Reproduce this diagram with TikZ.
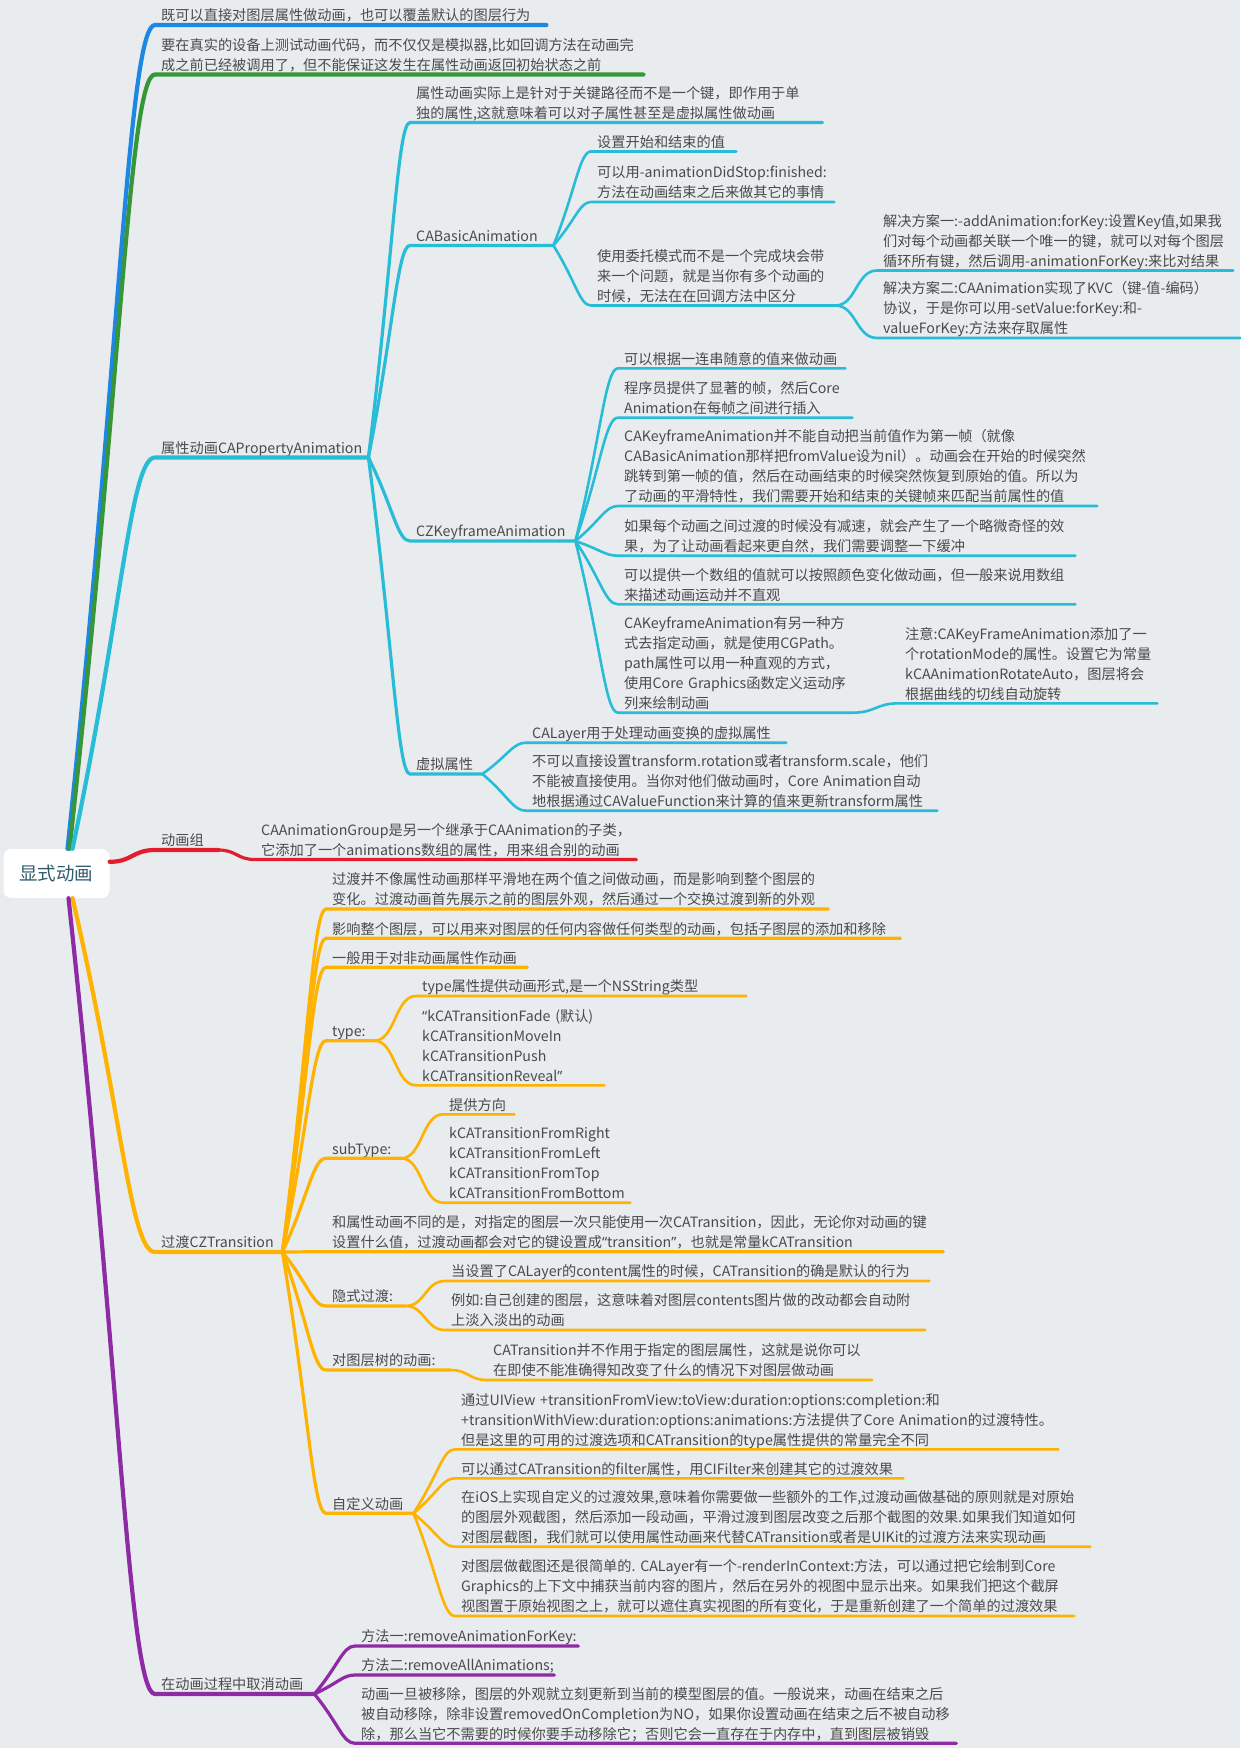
\documentclass[tikz,border=0pt]{standalone}
\usepackage{fontspec}
\setmainfont{Noto Sans CJK SC}
\newfontfamily\quotefont{Noto Sans}
\usetikzlibrary{calc}
\definecolor{cbg}{HTML}{E8ECEF}
\definecolor{ctext}{HTML}{4A4A4A}
\definecolor{croot}{HTML}{2F5B6C}
\definecolor{cblue}{HTML}{1E86E3}
\definecolor{cgreen}{HTML}{379637}
\definecolor{ccyan}{HTML}{29BCD6}
\definecolor{cred}{HTML}{E01E2E}
\definecolor{cyellow}{HTML}{FFB300}
\definecolor{cpurple}{HTML}{8E2AA3}
\hyphenpenalty=10000
\exhyphenpenalty=10000
\newcommand{\openq}{{\quotefont “}}
\newcommand{\closeq}{{\quotefont ”}}

\begin{document}
\begin{tikzpicture}[x=1pt,y=-1pt,
  topic/.style={anchor=south west,align=left,inner xsep=6pt,inner ysep=0pt,
    font=\fontsize{14.2}{20}\selectfont,text=ctext,
    execute at end node={\rule[-4pt]{0pt}{4pt}}},
  rootbox/.style={fill=white,rounded corners=8pt,minimum width=106pt,
    minimum height=49pt,font=\fontsize{18.5}{22}\selectfont,text=croot},
  fan/.style={to path={.. controls ($(\tikztostart)!0.6!(\tikztotarget)$)
    and ($(\tikztotarget)!0.3!(\tikztostart|-\tikztotarget)$) .. (\tikztotarget)}},
  swing/.style={to path={.. controls ($(\tikztostart)!0.5!(\tikztostart-|\tikztotarget)$)
    and ($(\tikztotarget)!0.5!(\tikztostart|-\tikztotarget)$) .. (\tikztotarget)}},
  lone/.style={line width=4.2pt,line cap=round},
  ltwo/.style={line width=3.2pt,line cap=round},
  lthree/.style={line width=2.6pt,line cap=round}]
  \useasboundingbox (0,0) rectangle (1240,1748);
  \fill[cbg] (0,0) rectangle (1240,1748);

  \node[rootbox] (root) at (56.5,873.5) {显式动画};

  % first level
  \node[topic,text width=379pt] (direct) at (155,25) {既可以直接对图层属性做动画，也可以覆盖默认的图层行为};
  \node[topic,text width=476pt] (device) at (155,74.5) {要在真实的设备上测试动画代码，而不仅仅是模拟器,比如回调方法在动画完\\成之前已经被调用了，但不能保证这发生在属性动画返回初始状态之前};
  \node[topic,text width=201pt] (prop) at (155,457.5) {属性动画CAPropertyAnimation};
  \node[topic,text width=51pt] (group) at (155,850) {动画组};
  \node[topic,text width=115pt] (trans) at (155,1252) {过渡CZTransition};
  \node[topic,text width=147pt] (cancel) at (155,1694) {在动画过程中取消动画};

  % property animation
  \node[topic,text width=400pt] (keypath) at (410,122.5) {属性动画实际上是针对于关键路径而不是一个键，即作用于单\\独的属性,这就意味着可以对子属性甚至是虚拟属性做动画};
  \node[topic,text width=131pt] (basic) at (410,245.5) {CABasicAnimation};
  \node[topic,text width=153pt] (keyframe) at (410,541) {CZKeyframeAnimation};
  \node[topic,text width=60pt] (virtual) at (410,774) {虚拟属性};

  \node[topic,text width=133pt] (fromto) at (591,151.5) {设置开始和结束的值};
  \node[topic,text width=231pt] (didstop) at (591,202) {可以用-animationDidStop:finished:\\方法在动画结束之后来做其它的事情};
  \node[topic,text width=232pt] (delegate) at (591,305.5) {使用委托模式而不是一个完成块会带\\来一个问题，就是当你有多个动画的\\时候，无法在在回调方法中区分};
  \node[topic,text width=344pt] (solone) at (877,270.5) {解决方案一:-addAnimation:forKey:设置Key值,如果我\\们对每个动画都关联一个唯一的键，就可以对每个图层\\循环所有键，然后调用-animationForKey:来比对结果};
  \node[topic,text width=351pt] (soltwo) at (877,338) {解决方案二:CAAnimation实现了KVC（键-值-编码）\\协议，于是你可以用-setValue:forKey:和-\\valueForKey:方法来存取属性};

  \node[topic,text width=215pt] (kfvalues) at (618,368.3) {可以根据一连串随意的值来做动画};
  \node[topic,text width=222pt] (kfframes) at (618,417.7) {程序员提供了显著的帧，然后Core\\Animation在每帧之间进行插入};
  \node[topic,text width=467pt] (kffirst) at (618,506) {CAKeyframeAnimation并不能自动把当前值作为第一帧（就像\\CABasicAnimation那样把fromValue设为nil）。动画会在开始的时候突然\\跳转到第一帧的值，然后在动画结束的时候突然恢复到原始的值。所以为\\了动画的平滑特性，我们需要开始和结束的关键帧来匹配当前属性的值};
  \node[topic,text width=445pt] (kfease) at (618,555.7) {如果每个动画之间过渡的时候没有减速，就会产生了一个略微奇怪的效\\果，为了让动画看起来更自然，我们需要调整一下缓冲};
  \node[topic,text width=445pt] (kfcolor) at (618,604.3) {可以提供一个数组的值就可以按照颜色变化做动画，但一般来说用数组\\来描述动画运动并不直观};
  \node[topic,text width=222pt] (kfpath) at (618,712.7) {CAKeyframeAnimation有另一种方\\式去指定动画，就是使用CGPath。\\path属性可以用一种直观的方式，\\使用Core~Graphics函数定义运动序\\列来绘制动画};
  \node[topic,text width=246pt] (kfrotate) at (899,703.3) {注意:CAKeyFrameAnimation添加了一\\个rotationMode的属性。设置它为常量\\kCAAnimationRotateAuto，图层将会\\根据曲线的切线自动旋转};

  \node[topic,text width=248pt] (vpone) at (526,742.7) {CALayer用于处理动画变换的虚拟属性};
  \node[topic,text width=399pt] (vptwo) at (526,810.7) {不可以直接设置transform.rotation或者transform.scale，他们\\不能被直接使用。当你对他们做动画时，Core~Animation自动\\地根据通过CAValueFunction来计算的值来更新transform属性};

  % animation group
  \node[topic,text width=369pt] (groupinfo) at (255,859.5) {CAAnimationGroup是另一个继承于CAAnimation的子类，\\它添加了一个animations数组的属性，用来组合别的动画};

  % transition
  \node[topic,text width=490pt] (tslide) at (326,909) {过渡并不像属性动画那样平滑地在两个值之间做动画，而是影响到整个图层的\\变化。过渡动画首先展示之前的图层外观，然后通过一个交换过渡到新的外观};
  \node[topic,text width=562pt] (twhole) at (326,938.3) {影响整个图层，可以用来对图层的任何内容做任何类型的动画，包括子图层的添加和移除};
  \node[topic,text width=189pt] (tnonanim) at (326,967.3) {一般用于对非动画属性作动画};
  \node[topic,text width=36pt] (ttype) at (326,1040.7) {type:};
  \node[topic,text width=318pt] (ttypeinfo) at (416,996) {type属性提供动画形式,是一个NSString类型};
  \node[topic,text width=176pt] (ttypelist) at (416,1085.3) {\openq kCATransitionFade~(默认)\\kCATransitionMoveIn\\kCATransitionPush\\kCATransitionReveal\closeq};
  \node[topic,text width=63pt] (tsub) at (326,1158.3) {subType:};
  \node[topic,text width=59pt] (tsubinfo) at (443,1114.3) {提供方向};
  \node[topic,text width=175pt] (tsublist) at (443,1202.7) {kCATransitionFromRight\\kCATransitionFromLeft\\kCATransitionFromTop\\kCATransitionFromBottom};
  \node[topic,text width=605pt] (tonce) at (326,1251.7) {和属性动画不同的是，对指定的图层一次只能使用一次CATransition，因此，无论你对动画的键\\设置什么值，过渡动画都会对它的键设置成\openq transition\closeq，也就是常量kCATransition};
  \node[topic,text width=67pt] (timplicit) at (326,1306) {隐式过渡:};
  \node[topic,text width=472pt] (timpone) at (445,1281) {当设置了CALayer的content属性的时候，CATransition的确是默认的行为};
  \node[topic,text width=468pt] (timptwo) at (445,1330) {例如:自己创建的图层，这意味着对图层contents图片做的改动都会自动附\\上淡入淡出的动画};
  \node[topic,text width=112pt] (ttree) at (326,1370) {对图层树的动画:};
  \node[topic,text width=373pt] (ttreeinfo) at (487,1380) {CATransition并不作用于指定的图层属性，这就是说你可以\\在即使不能准确得知改变了什么的情况下对图层做动画};
  \node[topic,text width=75pt] (tcustom) at (326,1513.3) {自定义动画};
  \node[topic,text width=591pt] (tcview) at (455,1449.3) {通过UIView~+transitionFromView:toView:duration:options:completion:和\\+transitionWithView:duration:options:animations:方法提供了Core~Animation的过渡特性。\\但是这里的可用的过渡选项和CATransition的type属性提供的常量完全不同};
  \node[topic,text width=436pt] (tcfilter) at (455,1478.3) {可以通过CATransition的filter属性，用CIFilter来创建其它的过渡效果};
  \node[topic,text width=623pt] (tcshot) at (455,1546.7) {在iOS上实现自定义的过渡效果,意味着你需要做一些额外的工作,过渡动画做基础的原则就是对原始\\的图层外观截图，然后添加一段动画，平滑过渡到图层改变之后那个截图的效果.如果我们知道如何\\对图层截图，我们就可以使用属性动画来代替CATransition或者是UIKit的过渡方法来实现动画};
  \node[topic,text width=607pt] (tcrender) at (455,1616) {对图层做截图还是很简单的.~CALayer有一个-renderInContext:方法，可以通过把它绘制到Core\\Graphics的上下文中捕获当前内容的图片，然后在另外的视图中显示出来。如果我们把这个截屏\\视图置于原始视图之上，就可以遮住真实视图的所有变化，于是重新创建了一个简单的过渡效果};

  % cancel
  \node[topic,text width=211pt] (cancelkey) at (355,1646) {方法一:removeAnimationForKey:};
  \node[topic,text width=187pt] (cancelall) at (355,1675) {方法二:removeAllAnimations;};
  \node[topic,text width=589pt] (cancelnote) at (355,1743.3) {动画一旦被移除，图层的外观就立刻更新到当前的模型图层的值。一般说来，动画在结束之后\\被自动移除，除非设置removedOnCompletion为NO，如果你设置动画在结束之后不被自动移\\除，那么当它不需要的时候你要手动移除它；否则它会一直存在于内存中，直到图层被销毁};

  % branches
  \draw[lone,cblue] ([xshift=11pt]root.north) to[fan] (direct.south west) -- (direct.south east);
  \draw[lone,cgreen] ([xshift=13pt]root.north) to[fan] (device.south west) -- (device.south east);
  \draw[lone,ccyan] ([xshift=16pt]root.north) to[fan] (prop.south west) -- (prop.south east);
  \draw[lone,cred] ([yshift=-13pt]root.north east) to[swing] (group.south west) -- (group.south east);
  \draw[lone,cyellow] ([xshift=16pt]root.south) to[fan] (trans.south west) -- (trans.south east);
  \draw[lone,cpurple] ([xshift=12pt]root.south) to[fan] (cancel.south west) -- (cancel.south east);

  \foreach \c in {keypath,basic,keyframe,virtual}
    \draw[ltwo,ccyan] (prop.south east) to[fan] (\c.south west) -- (\c.south east);
  \foreach \c in {fromto,didstop,delegate}
    \draw[lthree,ccyan] (basic.south east) to[fan] (\c.south west) -- (\c.south east);
  \foreach \c in {solone,soltwo}
    \draw[lthree,ccyan] (delegate.south east) to[swing] (\c.south west) -- (\c.south east);
  \foreach \c in {kfvalues,kfframes,kffirst,kfease,kfcolor,kfpath}
    \draw[lthree,ccyan] (keyframe.south east) to[fan] (\c.south west) -- (\c.south east);
  \draw[lthree,ccyan] (kfpath.south east) to[swing] (kfrotate.south west) -- (kfrotate.south east);
  \foreach \c in {vpone,vptwo}
    \draw[lthree,ccyan] (virtual.south east) to[fan] (\c.south west) -- (\c.south east);

  \draw[ltwo,cred] (group.south east) to[swing] (groupinfo.south west) -- (groupinfo.south east);

  \foreach \c in {tslide,twhole,tnonanim,ttype,tsub,tonce,timplicit,ttree,tcustom}
    \draw[ltwo,cyellow] (trans.south east) to[fan] (\c.south west) -- (\c.south east);
  \foreach \c in {ttypeinfo,ttypelist}
    \draw[lthree,cyellow] (ttype.south east) to[swing] (\c.south west) -- (\c.south east);
  \foreach \c in {tsubinfo,tsublist}
    \draw[lthree,cyellow] (tsub.south east) to[swing] (\c.south west) -- (\c.south east);
  \foreach \c in {timpone,timptwo}
    \draw[lthree,cyellow] (timplicit.south east) to[swing] (\c.south west) -- (\c.south east);
  \draw[lthree,cyellow] (ttree.south east) to[swing] (ttreeinfo.south west) -- (ttreeinfo.south east);
  \foreach \c in {tcview,tcfilter,tcshot,tcrender}
    \draw[lthree,cyellow] (tcustom.south east) to[fan] (\c.south west) -- (\c.south east);

  \foreach \c in {cancelkey,cancelall,cancelnote}
    \draw[ltwo,cpurple] (cancel.south east) to[fan] (\c.south west) -- (\c.south east);
\end{tikzpicture}
\end{document}
